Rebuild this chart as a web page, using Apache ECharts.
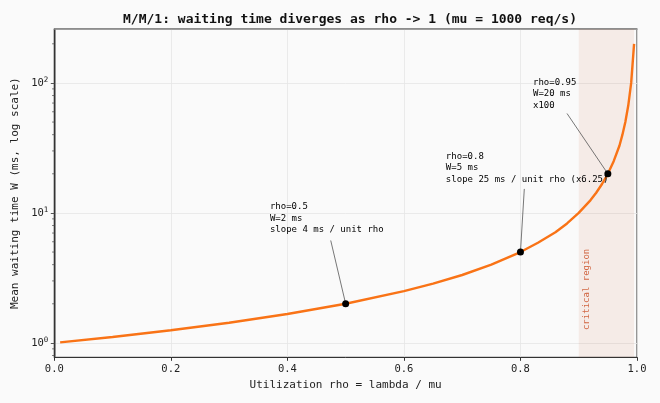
<!DOCTYPE html>
<html>
<head>
<meta charset="utf-8">
<script src="https://cdn.jsdelivr.net/npm/echarts@6/dist/echarts.min.js"></script>
<style>
  html, body { margin: 0; padding: 0; background: #fafafa; }
  #main { width: 660px; height: 403px; }
</style>
</head>
<body>
<div id="main"></div>
<script>
// utilisation rho and mean waiting time W (ms)
var rho = [0.01, 0.1, 0.2, 0.3, 0.4, 0.5, 0.6, 0.65, 0.7, 0.75, 0.8, 0.83, 0.86, 0.88,
           0.9, 0.92, 0.93, 0.94, 0.95, 0.96, 0.97, 0.975, 0.98, 0.985, 0.99, 0.995];
var waitMs = [1.01, 1.11, 1.25, 1.43, 1.67, 2.0, 2.5, 2.86, 3.33, 4.0, 5.0, 5.9, 7.1, 8.3,
              10, 12.5, 14.3, 16.7, 20, 25, 33, 40, 50, 67, 100, 200];

// marked points and their notes
var markRho = [0.5, 0.8, 0.95];
var markW = [2, 5, 20];
var markNotes = [
    'rho=0.5\nW=2 ms\nslope 4 ms / unit rho',
    'rho=0.8\nW=5 ms\nslope 25 ms / unit rho (x6.25)',
    'rho=0.95\nW=20 ms\nx100'
];

// critical band
var criticalFrom = 0.9;
var criticalTo = 0.995;

var yMinorTicks = [0.8, 0.9, 2, 3, 4, 5, 6, 7, 8, 9, 20, 30, 40, 50, 60, 70, 80, 90, 200];

// where the notes sit (data coords, top-left) and where their leader lines start
var noteAt = [[0.370, 12.3], [0.672, 29.9], [0.8215, 111]];
var leaderFrom = [[0.4744, 6.14], [0.8066, 15.3], [0.8799, 58.2]];

var mono = 'DejaVu Sans Mono';

var chart = echarts.init(document.getElementById('main'));

var curve = rho.map(function (r, i) { return [r, waitMs[i]]; });
var dots = markRho.map(function (r, i) { return [r, markW[i]]; });
var notes = noteAt.map(function (p, i) { return { value: p, note: markNotes[i] }; });
var leaders = leaderFrom.map(function (p, i) {
    return [{ coord: p }, { coord: dots[i] }];
});

var option = {
    backgroundColor: '#fafafa',
    animation: false,
    title: {
        text: 'M/M/1: waiting time diverges as rho -> 1 (mu = 1000 req/s)',
        left: 345, textAlign: 'center', top: 8,
        textStyle: { fontFamily: mono, fontSize: 13, fontWeight: 'bold', color: '#111' }
    },
    grid: {
        left: 54.3, right: 23, top: 29, bottom: 45.7,
        show: true, borderColor: '#333', borderWidth: 1, backgroundColor: '#fafafa'
    },
    xAxis: [{
        type: 'value', min: 0, max: 1, interval: 0.2,
        name: 'Utilization rho = lambda / mu',
        nameLocation: 'middle', nameGap: 21,
        nameTextStyle: { fontFamily: mono, fontSize: 11, color: '#222' },
        axisLine: { lineStyle: { color: '#333', width: 1 } },
        axisTick: { length: 3.5, lineStyle: { color: '#333' } },
        axisLabel: {
            fontFamily: mono, fontSize: 10.5, color: '#222', margin: 6,
            formatter: function (v) { return v.toFixed(1); }
        },
        splitLine: { lineStyle: { color: '#e6e6e6', width: 0.8 } }
    }, {
        type: 'value', min: 0, max: 1, position: 'top',
        axisLine: { show: true, lineStyle: { color: '#8a8a8a', width: 1.6 } },
        axisTick: { show: false }, axisLabel: { show: false }, splitLine: { show: false }
    }],
    yAxis: [{
        type: 'log', logBase: 10, min: 0.775, max: 260,
        name: 'Mean waiting time W (ms, log scale)',
        nameLocation: 'middle', nameGap: 31,
        nameTextStyle: { fontFamily: mono, fontSize: 11, color: '#222' },
        axisLine: { show: true, lineStyle: { color: '#8a8a8a', width: 1.6 } },
        axisTick: { length: 3.5, lineStyle: { color: '#555' } },
        axisLabel: {
            showMinLabel: false, showMaxLabel: false, margin: 6,
            formatter: function (v) {
                var e = Math.round(Math.log10(v));
                return '{b|10}{s|' + e + '}';
            },
            rich: {
                b: { fontFamily: mono, fontSize: 10.5, color: '#222' },
                s: { fontFamily: mono, fontSize: 7.5, color: '#222', verticalAlign: 'top', padding: [0, 0, 6, 0] }
            }
        },
        splitLine: { lineStyle: { color: '#e6e6e6', width: 0.8 } }
    }, {
        type: 'value', min: 0, max: 1, position: 'right',
        axisLine: { show: true, lineStyle: { color: '#333', width: 1.2 } },
        axisTick: { show: false }, axisLabel: { show: false }, splitLine: { show: false }
    }],
    series: [{
        type: 'line', data: curve, showSymbol: false, smooth: false,
        lineStyle: { color: '#f97316', width: 2.4 },
        z: 3,
        markArea: {
            silent: true,
            itemStyle: { color: 'rgba(194,65,12,0.08)' },
            data: [[{ xAxis: criticalFrom }, { xAxis: criticalTo }]]
        },
        markLine: {
            silent: true, symbol: 'none', animation: false,
            label: { show: false },
            lineStyle: { color: '#555', width: 0.8, type: 'solid', opacity: 1 },
            data: leaders
        }
    }, {
        type: 'scatter', data: dots, symbolSize: 7,
        itemStyle: { color: '#000', opacity: 1 }, z: 5
    }, {
        type: 'scatter', data: notes, symbolSize: 0, silent: true, z: 6,
        label: {
            show: true, position: [0, 0], align: 'left', verticalAlign: 'top',
            fontFamily: mono, fontSize: 9, lineHeight: 11.3, color: '#000', opacity: 1,
            formatter: function (p) { return p.data.note; }
        }
    }, {
        type: 'scatter', data: [{ value: [0.913, 2.58], note: 'critical region' }],
        symbolSize: 0, silent: true,
        label: {
            show: true, position: [0, 0], rotate: 90, align: 'center', verticalAlign: 'middle',
            fontFamily: mono, fontSize: 9, color: '#c8461a',
            formatter: function (p) { return p.data.note; }
        }
    }, {
        type: 'custom', silent: true, z: 4,
        data: yMinorTicks.map(function (v) { return [0, v]; }),
        renderItem: function (params, api) {
            var p = api.coord([0, api.value(1)]);
            return {
                type: 'line',
                shape: { x1: p[0] - 2.2, y1: p[1], x2: p[0], y2: p[1] },
                style: { stroke: '#555', lineWidth: 0.8 }
            };
        },
        clip: false
    }]
};

chart.setOption(option);
</script>
</body>
</html>
